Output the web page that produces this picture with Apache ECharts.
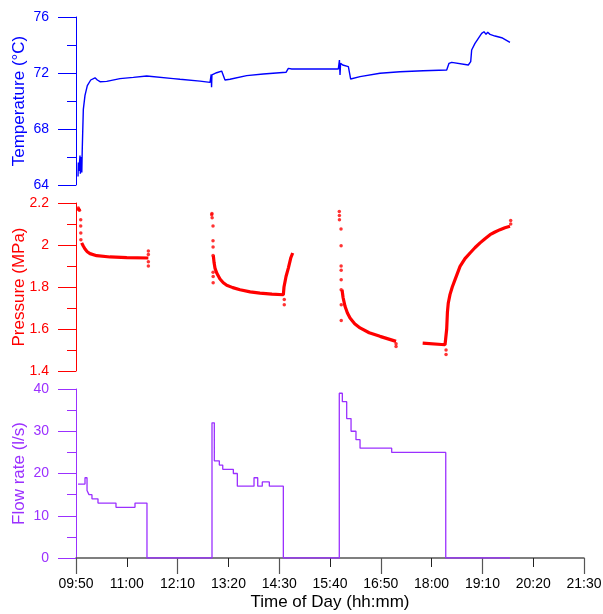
<!DOCTYPE html>
<html><head><meta charset="utf-8">
<script src="https://cdn.jsdelivr.net/npm/echarts@6/dist/echarts.min.js"></script>
<style>html,body{margin:0;padding:0;background:#fff}#c{width:603px;height:614px}</style>
</head><body><div id="c"></div>
<script>
// Time axis in minutes since midnight (09:50 = 590, 21:30 = 1290)
const timeTicks = [590, 660, 730, 800, 870, 940, 1010, 1080, 1150, 1220, 1290];

// Temperature (°C)
const temperature = [[592.8,64.6],[593.2,65.6],[594.0,65.0],[595.5,66.1],[596.0,64.8],[597.3,66.0],[598.0,64.9],[598.6,66.5],[599.2,67.7],[600.1,69.4],[602.4,70.4],[605.6,71.1],[610.3,71.5],[616.2,71.66],[619.4,71.5],[623.1,71.38],[632.3,71.4],[650.6,71.6],[669,71.69],[687.4,71.79],[724.1,71.6],[733.3,71.55],[760.9,71.42],[774.7,71.33],[775.6,71.33],[776.3,71.9],[776.8,70.98],[777.3,71.86],[779.2,71.98],[783.8,72.02],[790.7,72.14],[793,72.07],[795.3,71.5],[802.2,71.55],[825.2,71.81],[848.1,71.93],[879.4,72.05],[882.6,72.33],[887.3,72.29],[951.5,72.29],[953,72.93],[953.8,71.86],[954.6,72.7],[957.5,72.57],[965.3,72.45],[968.5,71.57],[981.4,71.74],[1008.9,71.98],[1036.5,72.09],[1068.6,72.16],[1100.8,72.21],[1104,72.69],[1107.7,72.76],[1130.6,72.57],[1133.9,72.81],[1135.2,73.64],[1139.8,74.12],[1144.4,74.48],[1149,74.83],[1152.2,74.95],[1155,74.76],[1157.3,74.91],[1160.5,74.76],[1167.4,74.64],[1176.6,74.52],[1188,74.19]];

// Pressure (MPa) - continuous parts
const pressureRun1 = [[597.8,2.01],[600,1.995],[602.4,1.981],[605.5,1.968],[609.3,1.959],[618.5,1.949],[636.9,1.943],[660,1.94],[689.7,1.938]];
const pressureRun2 = [[779.2,1.95],[780.3,1.915],[781.5,1.89],[783.9,1.867],[788.4,1.838],[793,1.82],[797.7,1.808],[806,1.797],[816,1.787],[830,1.777],[843.5,1.771],[860,1.766],[875.7,1.763],[876.6,1.80],[879.4,1.85],[882.6,1.89],[885.9,1.938],[888.6,1.962]];
const pressureRun3 = [[956.6,1.787],[958,1.75],[960.7,1.708],[964,1.676],[967.6,1.652],[974,1.625],[981.4,1.605],[994,1.582],[1008.9,1.565],[1020,1.553],[1031,1.541]];
const pressureRun4 = [[1067.7,1.533],[1098.5,1.525],[1100.8,1.6],[1101.8,1.68],[1103,1.724],[1105.4,1.765],[1108.5,1.8],[1112.3,1.835],[1119.2,1.898],[1126,1.935],[1133,1.962],[1140,1.988],[1146.8,2.01],[1153.6,2.03],[1160.5,2.049],[1167.4,2.062],[1174.3,2.073],[1181,2.082],[1188,2.089]];
// Pressure - isolated readings
const pressureDots = [[593.2,2.176],[593.6,2.17],[594.2,2.168],[594.8,2.165],[596.5,2.12],[596.5,2.09],[596.6,2.057],[596.7,2.025],[689.7,1.971],[689.7,1.955],[689.7,1.92],[689.7,1.90],
  [777,2.144],[777.3,2.15],[777.6,2.13],[778.8,2.09],[778.8,2.02],[778.9,1.99],[778.9,1.95],[778.9,1.87],[779,1.85],[779,1.82],[877,1.74],[877,1.716],
  [952.8,2.16],[952.9,2.14],[953,2.12],[955.2,2.076],[955.3,1.997],[955.3,1.90],[955.4,1.88],[955.4,1.835],[955.4,1.787],[955.5,1.716],[955.5,1.64],[1031,1.517],[1031,1.53],
  [1099.9,1.478],[1099.9,1.50],[1189,2.117],[1189,2.10]];

// Flow rate (l/s), stepwise
const flow = [[592.8,17.5],[602.4,19],[605.2,16],[607.9,15],[612,14],[620.3,13],[645.1,12],[671.3,13],[687.8,0],[777.4,32],[780.6,23],[787.5,22],[792.2,21],[806.8,20],[812.3,17],[835.3,19],[840.4,17],[846.7,18],[856.4,17],[875.7,0],[952.8,39],[957,37],[963,33],[969,30],[975.8,28],[981.4,26],[1025,25],[1099.5,0],[1188,0]];

const BLUE = '#0000ff', RED = '#ff0000', PURPLE = '#9b30ff', GRAY = '#555555';
const FONT = 'Liberation Sans, Arial, sans-serif';
const fmtTime = m => { const h = Math.floor(m / 60), mm = Math.round(m % 60); return String(h).padStart(2,'0') + ':' + String(mm).padStart(2,'0'); };

const L = 76, W = 508;
const grids = [
  {left: L, top: 17, width: W, height: 168, containLabel: false, outerBoundsMode: 'none'},
  {left: L, top: 203, width: W, height: 168, containLabel: false, outerBoundsMode: 'none'},
  {left: L, top: 389, width: W, height: 169, containLabel: false, outerBoundsMode: 'none'}
];
const xBase = {type: 'value', min: timeTicks[0], max: timeTicks[timeTicks.length-1], interval: 70, splitLine: {show: false}};
const xAxes = [
  Object.assign({}, xBase, {gridIndex: 0, show: false}),
  Object.assign({}, xBase, {gridIndex: 1, show: false}),
  Object.assign({}, xBase, {gridIndex: 2, position: 'bottom', offset: 0,
    axisLine: {show: true, onZero: false, lineStyle: {color: GRAY, width: 1.5}},
    axisTick: {show: true, length: 9, lineStyle: {color: '#222', width: 1}},
    axisLabel: {show: true, margin: 19, color: '#000', fontSize: 14, fontFamily: FONT, formatter: fmtTime, showMaxLabel: true, showMinLabel: true},
    name: 'Time of Day (hh:mm)', nameLocation: 'middle', nameGap: 36, nameMoveOverlap: false,
    nameTextStyle: {color: '#000', fontSize: 17, fontFamily: FONT}
  }),
  Object.assign({}, xBase, {gridIndex: 2, interval: 140, position: 'bottom', offset: 0,
    axisLine: {show: false, onZero: false},
    axisTick: {show: true, length: 16, lineStyle: {color: GRAY, width: 1.2}},
    axisLabel: {show: false}
  })
];
function yAx(idx, color, min, max, interval, name, fmt) {
  return {
    type: 'value', gridIndex: idx, min: min, max: max, interval: interval,
    axisLine: {show: true, onZero: false, lineStyle: {color: color, width: 1}},
    axisTick: {show: true, length: 18, lineStyle: {color: color, width: 1}},
    minorTick: {show: true, splitNumber: 2, length: 9, lineStyle: {color: color, width: 1}},
    splitLine: {show: false}, minorSplitLine: {show: false},
    axisLabel: {color: color, fontSize: 14, fontFamily: FONT, margin: 27, formatter: fmt},
    name: name, nameLocation: 'middle', nameGap: 48, nameRotate: 90, nameMoveOverlap: false,
    nameTextStyle: {color: color, fontSize: 17, fontFamily: FONT}
  };
}
const yAxes = [
  yAx(0, BLUE, 64, 76, 4, 'Temperature (°C)', v => String(v)),
  yAx(1, RED, 1.4, 2.2, 0.2, 'Pressure (MPa)', v => String(+(+v).toFixed(1))),
  yAx(2, PURPLE, 0, 40, 10, 'Flow rate (l/s)', v => String(v))
];
function pRun(d) {
  return {type: 'line', xAxisIndex: 1, yAxisIndex: 1, data: d, showSymbol: false, symbol: 'none',
    lineStyle: {color: RED, width: 3.2}, animation: false, z: 3};
}
const option = {
  animation: false,
  grid: grids, xAxis: xAxes, yAxis: yAxes,
  series: [
    {type: 'line', xAxisIndex: 0, yAxisIndex: 0, data: temperature, showSymbol: false, symbol: 'none',
      lineStyle: {color: BLUE, width: 1.4}},
    pRun(pressureRun1), pRun(pressureRun2), pRun(pressureRun3), pRun(pressureRun4),
    {type: 'scatter', xAxisIndex: 1, yAxisIndex: 1, data: pressureDots, symbol: 'circle', symbolSize: 3.5,
      itemStyle: {color: RED}},
    {type: 'line', xAxisIndex: 2, yAxisIndex: 2, data: flow, step: 'end', showSymbol: false, symbol: 'none',
      lineStyle: {color: PURPLE, width: 1.3}, z: 5}
  ]
};
const chart = echarts.init(document.getElementById('c'), null, {renderer: 'canvas'});
chart.setOption(option);
</script></body></html>
